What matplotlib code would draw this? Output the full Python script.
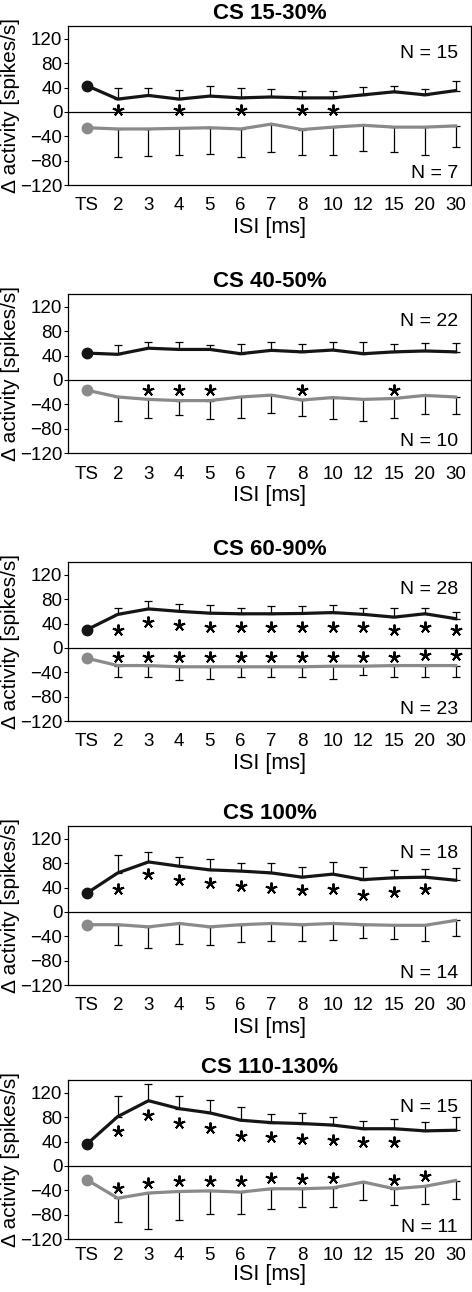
# -*- coding: utf-8 -*-
# 五个条件刺激强度下的 Δ activity 随 ISI 变化
import numpy as np
import matplotlib
matplotlib.use('Agg')
import matplotlib.pyplot as plt

plt.rcParams['font.family'] = ['Liberation Sans', 'DejaVu Sans']

# 数据
isi_labels = ['TS', '2', '3', '4', '5', '6', '7', '8', '10', '12', '15', '20', '30']
titles = ['CS 15-30%', 'CS 40-50%', 'CS 60-90%', 'CS 100%', 'CS 110-130%']
n_top = [15, 22, 28, 18, 15]
n_bottom = [7, 10, 23, 14, 11]

# 兴奋 (黑线) 均值和上误差端点
top_mean = [
    [43, 21, 27, 21, 26, 23, 24.5, 23, 23, 28, 33, 28, 35],
    [44, 42, 52, 50, 50, 43, 48.5, 46, 49, 43, 46, 47.5, 46],
    [30, 55, 64, 60, 57, 56, 56, 56.5, 58, 55, 50.5, 56, 48],
    [31, 64, 82, 75, 69, 67, 64, 57, 62, 53, 56, 57, 52],
    [36, 81, 107, 94, 87, 75, 71, 69.5, 67, 61, 61, 57.5, 58.5],
]
top_upper = [
    [40, 39, 36.5, 43, 39, 38, 35, 35, 41, 43, 38, 51],
    [57, 62, 62, 58, 59, 62, 59, 62, 62, 59, 60.5, 60.5],
    [65, 77, 72, 70.5, 66, 68, 69.5, 71, 66, 65, 66, 59],
    [94, 99, 90, 87, 81, 80, 74, 82, 74, 68, 70, 72],
    [114.5, 135, 115.5, 108.5, 96.5, 84.5, 87, 80, 74, 77.5, 72, 80],
]
# 抑制 (灰线) 均值和下误差端点
bot_mean = [
    [-26, -28, -28, -27, -26, -28, -20, -29, -25, -22, -25, -25, -23],
    [-17, -28, -32, -34, -34, -28, -25, -33, -29, -32, -30.5, -25.5, -28],
    [-17, -29, -29, -31, -31, -31, -31, -31, -30, -30, -29, -29, -29],
    [-21, -21, -24.5, -19, -24.5, -21, -19, -21, -19, -21, -22, -22, -14],
    [-23, -53, -44.5, -42, -41, -43, -37.5, -37.5, -36, -26.5, -37.5, -33.5, -24],
]
bot_lower = [
    [-74, -72.5, -70, -69, -74, -66, -71.5, -70, -64, -66, -70, -57],
    [-67, -63, -58, -64, -62, -55, -59.5, -64, -67, -62, -56, -56],
    [-48, -48, -53, -50.5, -47, -47, -48, -50.5, -45, -47, -47, -48],
    [-55, -60, -52, -55, -50, -48.5, -47.5, -46, -43, -44, -48.5, -39],
    [-92, -103, -89, -79, -79, -70.5, -67, -68, -56.5, -63.5, -62, -54],
]
# 显著性星号 (None = 无)
N_ = None
top_star = [
    [N_, 3, N_, 3, N_, 3, N_, 3, 3, N_, N_, N_, N_],
    [N_] * 13,
    [N_, 30, 42, 37, 34, 34, 34, 34, 34, 34, 29, 34, 29],
    [N_, 38, 62, 53, 48, 43, 40, 35.5, 38, 28, 33, 38, N_],
    [N_, 57.5, 83, 70.5, 63, 49, 48, 43.5, 42, 40, 40, N_, N_],
]
bot_star = [
    [N_] * 13,
    [N_, N_, -17, -17, -17, N_, N_, -17, N_, N_, -17, N_, N_],
    [N_, -15, -15, -15, -15, -15, -15, -15, -15, -15, -15, -12, -12],
    [N_] * 13,
    [N_, -36, -28, -25.5, -24, -25.5, -20, -21, -20, N_, -23, -17, N_],
]

W, H = 472, 1292
fig = plt.figure(figsize=(W / 100, H / 100), dpi=100)

ax_top = [26, 294, 562, 826, 1080]
ax_h = 159
x_left, x_right = 68, 471
x = np.arange(len(isi_labels))

black = '#151515'
grey = '#8a8a8a'

for i in range(5):
    ax = fig.add_axes([x_left / W, 1 - (ax_top[i] + ax_h) / H,
                       (x_right - x_left) / W, ax_h / H])
    ax.axhline(0, color='black', lw=0.9, zorder=1)

    tm = np.array(top_mean[i])
    tu = np.array(top_upper[i])
    bm = np.array(bot_mean[i])
    bl = np.array(bot_lower[i])

    ax.errorbar(x[1:], tm[1:], yerr=[np.zeros(12), tu - tm[1:]], fmt='none',
                ecolor='black', elinewidth=0.9, capsize=3, capthick=0.9, zorder=2)
    ax.errorbar(x[1:], bm[1:], yerr=[bm[1:] - bl, np.zeros(12)], fmt='none',
                ecolor='black', elinewidth=0.9, capsize=3, capthick=0.9, zorder=2)

    ax.plot(x, tm, color=black, lw=2.3, zorder=3)
    ax.plot(x[0], tm[0], 'o', color=black, ms=7.5, zorder=4)
    ax.plot(x, bm, color=grey, lw=2.3, zorder=3)
    ax.plot(x[0], bm[0], 'o', color=grey, ms=7.5, zorder=4)

    for j in range(len(x)):
        if top_star[i][j] is not None:
            ax.plot(x[j], top_star[i][j], marker=(5, 2, 0), color='black',
                    ms=8.5, mew=1.4, zorder=5)
        if bot_star[i][j] is not None:
            ax.plot(x[j], bot_star[i][j], marker=(5, 2, 0), color='black',
                    ms=8.5, mew=1.4, zorder=5)

    ax.text(0.968, 0.825, 'N = %d' % n_top[i], transform=ax.transAxes,
            ha='right', va='center', fontsize=14)
    ax.text(0.968, 0.075, 'N = %d' % n_bottom[i], transform=ax.transAxes,
            ha='right', va='center', fontsize=14)

    ax.set_xlim(-0.62, 12.5)
    ax.set_ylim(-120, 141)
    ax.set_yticks([-120, -80, -40, 0, 40, 80, 120])
    ax.set_xticks(x)
    ax.set_xticklabels(isi_labels)
    # 最后一张图的底部空间较紧
    ax.tick_params(axis='x', length=0, pad=9 if i < 4 else 6, labelsize=13.5)
    ax.tick_params(axis='y', length=3, width=0.8, pad=1, labelsize=13.5)
    for s in ax.spines.values():
        s.set_linewidth(0.9)

    ax.set_xlabel('ISI [ms]', fontsize=15.5, labelpad=2 if i < 4 else 0)
    ax.set_ylabel('Δ activity [spikes/s]', fontsize=15, labelpad=0)
    ax.set_title(titles[i], fontsize=16, fontweight='bold', pad=5)

plt.savefig('out.png', dpi=100)
